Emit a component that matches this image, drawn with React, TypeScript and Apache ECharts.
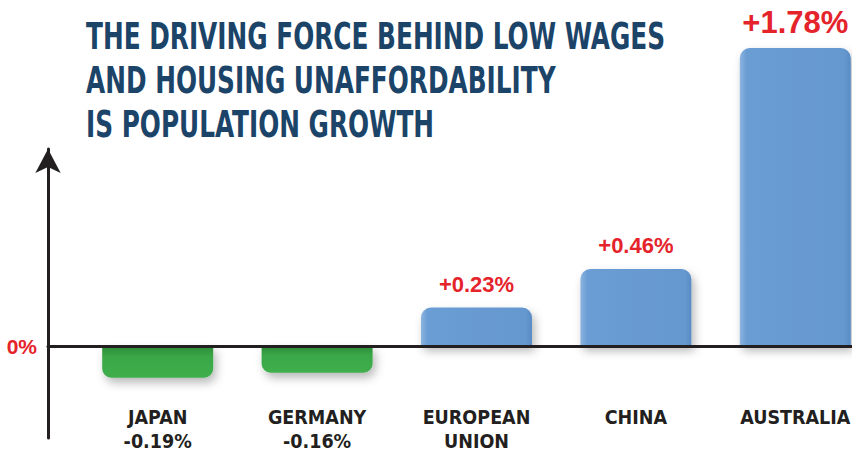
import React, { useEffect, useRef } from "react";
import * as echarts from "echarts";

const titleLines = [
  "THE DRIVING FORCE BEHIND LOW WAGES",
  "AND HOUSING UNAFFORDABILITY",
  "IS POPULATION GROWTH",
];
const categories = ["JAPAN", "GERMANY", "EUROPEAN\nUNION", "CHINA", "AUSTRALIA"];
const values = [-0.19, -0.16, 0.23, 0.46, 1.78];
const zeroLabel = "0%";

const NARROW = '"Liberation Sans Narrow", "DejaVu Sans Condensed", "Liberation Sans", sans-serif';
const WIDE = '"Liberation Sans", Arial, sans-serif';
const RED = "#e5232b";
const DARK = "#231f20";
const NAVY = "#1b4468";

const fmt = (v: number) => (v > 0 ? "+" : "-") + Math.abs(v).toFixed(2) + "%";

export default function App() {
  const ref = useRef<HTMLDivElement>(null);
  useEffect(() => {
    const chart = echarts.init(ref.current!, undefined, { renderer: "svg" });
    const blueGrad = new echarts.graphic.LinearGradient(0, 0, 1, 0, [
      { offset: 0, color: "#8cb4e0" },
      { offset: 0.06, color: "#6a9dd3" },
      { offset: 0.94, color: "#6598cf" },
      { offset: 1, color: "#5a8cc4" },
    ]);
    const greenGrad = new echarts.graphic.LinearGradient(0, 0, 0, 1, [
      { offset: 0, color: "#2b8a37" },
      { offset: 0.35, color: "#3aa847" },
      { offset: 1, color: "#40ae4d" },
    ]);
    const data = values.map((v, i) => {
      const pos = v >= 0;
      const big = i === values.length - 1;
      return {
        value: v,
        itemStyle: {
          color: pos ? blueGrad : greenGrad,
          borderRadius: pos ? [10, 10, 0, 0] : [0, 0, 9, 9],
          shadowBlur: 10,
          shadowColor: "rgba(0,0,0,0.28)",
          shadowOffsetX: 3,
          shadowOffsetY: 5,
        },
        label: {
          show: pos,
          position: "top",
          distance: big ? 10 : 12,
          formatter: () => fmt(v),
          color: RED,
          fontFamily: WIDE,
          fontWeight: "bold",
          fontSize: big ? 31 : 22,
        },
      };
    });
    chart.setOption({
      animation: false,
      backgroundColor: "#ffffff",
      grid: [
        { left: 78, width: 797, top: 146, bottom: 13, outerBoundsMode: "none", containLabel: false },
        { left: 48, right: 0, top: 149, bottom: 13, outerBoundsMode: "none", containLabel: false },
      ],
      xAxis: [
        {
          gridIndex: 0,
          type: "category",
          position: "bottom",
          data: categories,
          axisLine: { show: false, onZero: false },
          axisTick: { show: false },
          axisLabel: {
            interval: 0,
            margin: -33,
            color: DARK,
            fontFamily: NARROW,
            fontWeight: "bold",
            fontSize: 19.5,
            lineHeight: 24,
            verticalAlign: "top",
            formatter: (name: string) => {
              const i = categories.indexOf(name);
              return values[i] < 0 ? name + "\n" + fmt(values[i]) : name;
            },
          },
          splitLine: { show: false },
        },
        {
          gridIndex: 1,
          type: "value",
          min: 0,
          max: 1,
          z: 10,
          axisLine: { show: true, onZero: true, lineStyle: { color: DARK, width: 3 } },
          axisTick: { show: false },
          axisLabel: { show: false },
          splitLine: { show: false },
        },
      ],
      yAxis: [
        {
          gridIndex: 0,
          type: "value",
          min: -0.55,
          max: 1.195,
          show: true,
          axisLine: { show: false },
          axisTick: { show: false },
          axisLabel: { show: false },
          splitLine: { show: false },
        },
        {
          gridIndex: 1,
          type: "value",
          min: -0.92,
          max: 1.97,
          z: 10,
          axisLine: {
            show: true,
            symbol: ["none", "arrow"],
            symbolSize: [19, 24],
            lineStyle: { color: DARK, width: 3 },
          },
          axisTick: { show: false },
          splitLine: { show: false },
          axisLabel: {
            show: true,
            customValues: [0],
            formatter: () => zeroLabel,
            color: RED,
            fontFamily: WIDE,
            fontWeight: "bold",
            fontSize: 21,
            margin: 11,
          },
        },
      ],
      graphic: titleLines.map((t, i) => ({
        type: "text",
        x: 86,
        y: 37 + i * 43.7,
        scaleX: 0.745,
        style: {
          text: t,
          fill: NAVY,
          fontFamily: NARROW,
          fontWeight: "bold",
          fontSize: 37,
          verticalAlign: "middle",
          align: "left",
        },
      })),
      series: [
        {
          type: "bar",
          xAxisIndex: 0,
          yAxisIndex: 0,
          barWidth: 111,
          clip: false,
          data,
        },
      ],
    });
    return () => chart.dispose();
  }, []);
  return (
    <div
      ref={ref}
      style={{ position: "fixed", left: 0, top: 0, width: 852, height: 451 }}
    />
  );
}
